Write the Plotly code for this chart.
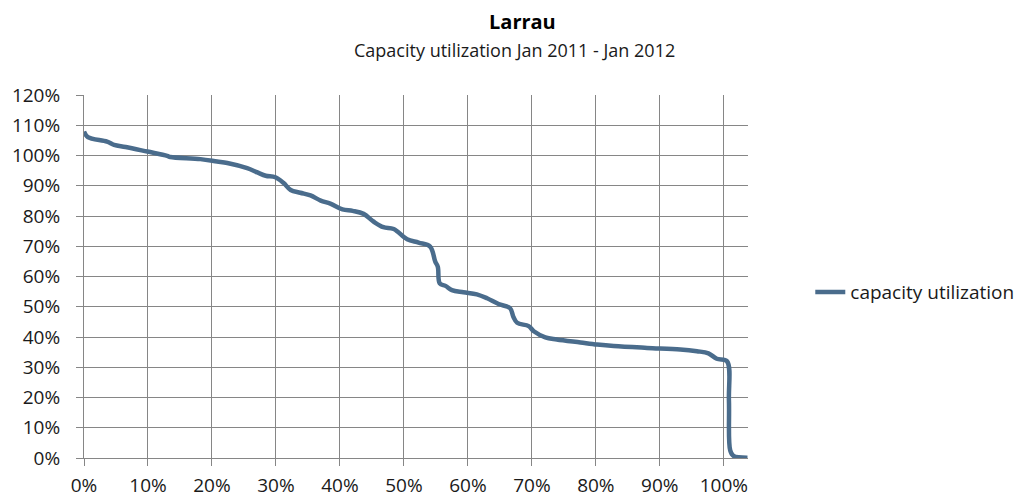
import plotly.graph_objects as go

# Share of time (duration curve) vs capacity utilization
time_share = [0.000, 0.006, 0.036, 0.047, 0.065, 0.099, 0.130, 0.135, 0.182, 0.208,
              0.224, 0.255, 0.271, 0.284, 0.299, 0.312, 0.323, 0.338, 0.354, 0.370,
              0.385, 0.404, 0.420, 0.437, 0.453, 0.468, 0.484, 0.505, 0.523, 0.541,
              0.549, 0.553, 0.556, 0.565, 0.575, 0.593, 0.614, 0.630, 0.648, 0.666,
              0.671, 0.677, 0.695, 0.703, 0.721, 0.739, 0.776, 0.802, 0.828, 0.880,
              0.932, 0.958, 0.976, 0.989, 1.005, 1.008, 1.010, 1.015, 1.037]
utilization = [1.079, 1.061, 1.046, 1.035, 1.028, 1.013, 0.999, 0.995, 0.988, 0.980,
               0.975, 0.958, 0.944, 0.933, 0.928, 0.909, 0.886, 0.877, 0.868, 0.851,
               0.841, 0.822, 0.817, 0.807, 0.781, 0.763, 0.757, 0.723, 0.712, 0.699,
               0.649, 0.632, 0.577, 0.569, 0.555, 0.548, 0.541, 0.528, 0.509, 0.495,
               0.467, 0.447, 0.436, 0.419, 0.399, 0.392, 0.382, 0.375, 0.370, 0.364,
               0.359, 0.353, 0.346, 0.328, 0.320, 0.191, 0.025, 0.007, 0.001]

x_ticks = [0.0, 0.1, 0.2, 0.3, 0.4, 0.5, 0.6, 0.7, 0.8, 0.9, 1.0]
x_labels = ["0%", "10%", "20%", "30%", "40%", "50%", "60%", "70%", "80%", "90%", "100%"]
y_ticks = [0.0, 0.1, 0.2, 0.3, 0.4, 0.5, 0.6, 0.7, 0.8, 0.9, 1.0, 1.1, 1.2]
y_labels = ["0%", "10%", "20%", "30%", "40%", "50%", "60%", "70%", "80%", "90%",
            "100%", "110%", "120%"]

title_text = "Larrau"
subtitle_text = "Capacity utilization Jan 2011 - Jan 2012"
series_name = "capacity utilization"

FONT = "Open Sans"
GRID = "#868686"
LINE = "#4A6C8C"
TXT = "#1a1a1a"

W, H = 1035, 499
L, R, T, B = 83.5, 747.7, 95.0, 457.7

fig = go.Figure()
fig.add_trace(go.Scatter(x=time_share, y=utilization, mode="lines", name=series_name,
                         line=dict(color=LINE, width=4.5), line_shape="spline"))

axis_common = dict(showgrid=True, gridcolor=GRID, gridwidth=1,
                   showline=True, linecolor=GRID, linewidth=1,
                   ticks="outside", ticklen=7, tickcolor=GRID, zeroline=False,
                   automargin=False,
                   tickfont=dict(family=FONT, size=19, color=TXT))

fig.update_layout(
    width=W, height=H,
    margin=dict(l=L, r=W - R, t=T, b=H - B, pad=0, autoexpand=False),
    paper_bgcolor="white", plot_bgcolor="white",
    font=dict(family=FONT, size=19, color=TXT),
    showlegend=True,
    legend=dict(x=(810 - L) / (R - L), xanchor="left",
                y=(B - 292) / (B - T), yanchor="middle",
                font=dict(family=FONT, size=19, color=TXT),
                bgcolor="rgba(0,0,0,0)", borderwidth=0),
    xaxis=dict(range=[0, 1.0378], tickmode="array", tickvals=x_ticks, ticktext=x_labels,
               ticklabelstandoff=3, **axis_common),
    yaxis=dict(range=[0, 1.2], tickmode="array", tickvals=y_ticks, ticktext=y_labels,
               ticklabelstandoff=12, **axis_common),
    annotations=[
        dict(text="<b>" + title_text + "</b>", xref="paper", yref="paper",
             x=(522 - L) / (R - L), y=(B - 22) / (B - T), xanchor="center", yanchor="middle",
             showarrow=False, font=dict(family=FONT, size=20, color="#000000")),
        dict(text=subtitle_text, xref="paper", yref="paper",
             x=(514 - L) / (R - L), y=(B - 50) / (B - T), xanchor="center", yanchor="middle",
             showarrow=False, font=dict(family=FONT, size=18, color=TXT)),
    ],
)

fig.write_html("out.html",
               config={"displayModeBar": False},
               post_script="document.body.style.margin='0';document.body.style.overflow='hidden';")
